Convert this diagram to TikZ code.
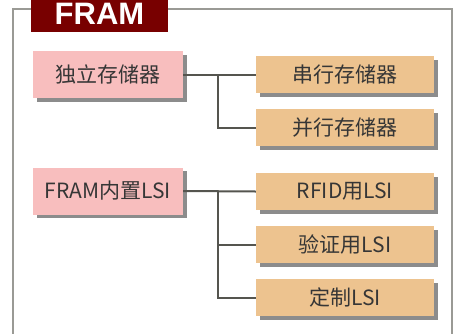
\documentclass[tikz,border=0pt]{standalone}
\usepackage{fontspec}
\setmainfont{Noto Sans CJK SC}
\newfontfamily\titlefont{Liberation Sans}
\usetikzlibrary{shadows}
\definecolor{framred}{HTML}{780000}
\definecolor{mainpink}{HTML}{F8BEBE}
\definecolor{suborange}{HTML}{EDC38F}
\definecolor{linkgray}{HTML}{55554F}
\definecolor{framegray}{HTML}{9A9A95}
\definecolor{textgray}{HTML}{363636}
\begin{document}
\begin{tikzpicture}[x=1pt,y=-1pt,
    boxshadow/.style={drop shadow={shadow xshift=3.5pt,shadow yshift=-3.5pt,fill=black,opacity=.45}},
    mainbox/.style={fill=mainpink,boxshadow,minimum width=150pt,minimum height=47pt,
      inner sep=0pt,text=textgray,font=\fontsize{21}{25}\selectfont},
    subbox/.style={fill=suborange,boxshadow,minimum width=178pt,minimum height=37pt,
      inner sep=0pt,text=textgray,font=\fontsize{21}{25}\selectfont},
    link/.style={draw=linkgray,line width=2pt},
    frameline/.style={draw=framegray,line width=1.5pt}]
\useasboundingbox (0,0) rectangle (463,333);

% outer frame and title
\draw[frameline] (13,340) -- (13,9) -- (452,9) -- (452,340);
\fill[framred] (31,-5) rectangle (168,32);
\node[anchor=base,text=white,font=\titlefont\bfseries\fontsize{31}{36}\selectfont,inner sep=0pt] (title) at (99.5,24.5) {FRAM};

% left column
\node[mainbox] (mem) at (108,74.5) {独立存储器};
\node[mainbox] (lsi) at (108,191) {FRAM内置LSI};

% right column
\node[subbox] (serial)   at (345,74.5)  {串行存储器};
\node[subbox] (parallel) at (345,127.5) {并行存储器};
\node[subbox] (rfid)     at (345,191.5) {RFID用LSI};
\node[subbox] (auth)     at (345,244.5) {验证用LSI};
\node[subbox] (custom)   at (345,297.5) {定制LSI};

% connectors
\coordinate (trunk) at (218,0);
\draw[link] (mem.east) -- (serial.west);
\draw[link] (mem.east -| trunk) |- (parallel.west);
\draw[link] (lsi.east) -- (rfid.west);
\draw[link] (lsi.east -| trunk) |- (auth.west);
\draw[link] (lsi.east -| trunk) |- (custom.west);
\end{tikzpicture}
\end{document}
